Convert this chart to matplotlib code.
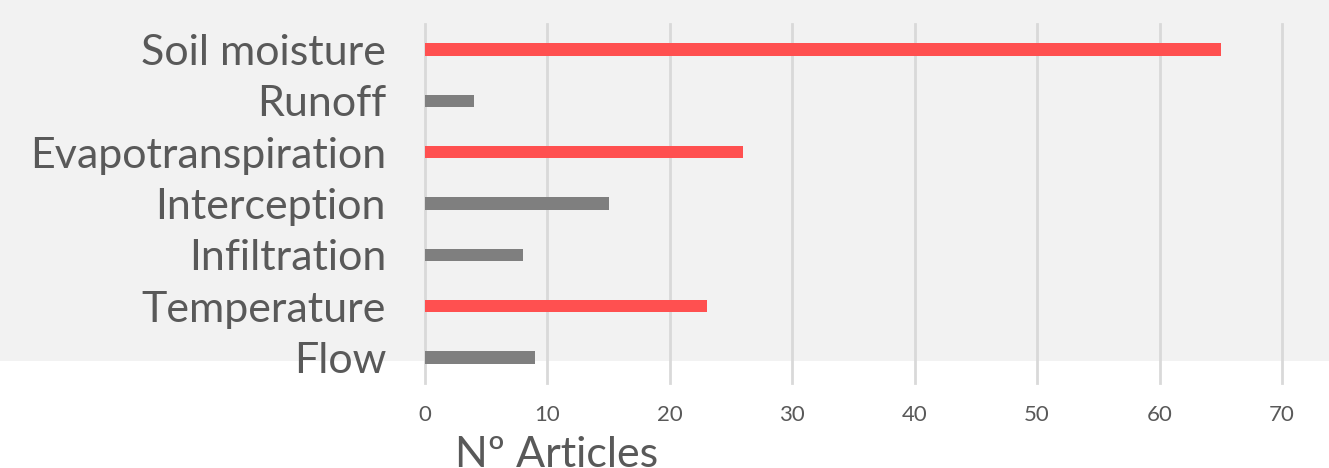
import matplotlib.pyplot as plt
from matplotlib.patches import Rectangle

categories = ['Flow', 'Temperature', 'Infiltration', 'Interception',
              'Evapotranspiration', 'Runoff', 'Soil moisture']
values = [9, 23, 8, 15, 26, 4, 65]
highlight = [False, True, False, False, True, False, True]
xticks = [0, 10, 20, 30, 40, 50, 60, 70]

W, H = 1329, 468
fig = plt.figure(figsize=(W / 100, H / 100), dpi=100)
fig.patch.set_facecolor('white')
# grey band behind the upper part of the chart
fig.patches.append(Rectangle((0, 1 - 361 / H), 1, 361 / H, transform=fig.transFigure,
                             facecolor='#f2f2f2', edgecolor='none', zorder=-5))

ax = fig.add_axes([425 / W, 1 - 383 / H, (1282 - 425) / W, (383 - 24) / H])
ax.set_facecolor('none')

colors = ['#ff5050' if h else '#7f7f7f' for h in highlight]
ax.barh(range(len(categories)), values, height=0.24, color=colors, zorder=3)

ax.set_xlim(0, 70)
ax.set_ylim(-0.5, len(categories) - 0.5)
ax.set_xticks(xticks)
ax.set_yticks(range(len(categories)))
ax.set_yticklabels(categories)
ax.grid(axis='x', color='#d9d9d9', linewidth=2, zorder=1)
for gl in ax.get_xgridlines():
    gl.set_clip_on(False)
for s in ax.spines.values():
    s.set_visible(False)
ax.tick_params(axis='x', length=0, pad=16, labelsize=16, labelcolor='#595959')
ax.tick_params(axis='y', length=0, pad=28, labelsize=31, labelcolor='#595959')
for lab in ax.get_xticklabels() + ax.get_yticklabels():
    lab.set_family('Lato')

fig.text(455 / W, 1 - 436 / H, 'Nº Articles', fontsize=31, color='#595959',
         family='Lato', ha='left', va='top')

fig.savefig('out.png', dpi=100)
